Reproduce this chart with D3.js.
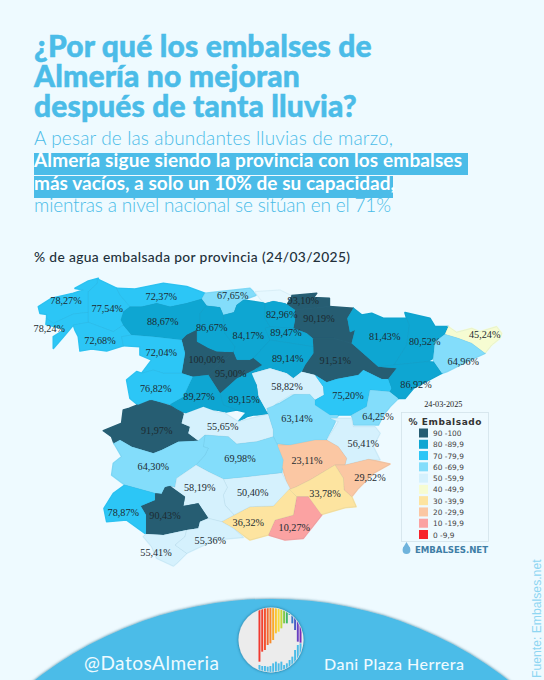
<!DOCTYPE html>
<html><head><meta charset="utf-8">
<script src="https://cdnjs.cloudflare.com/ajax/libs/d3/7.9.0/d3.min.js"></script>
<style>html,body{margin:0;padding:0;background:#eefaff}svg{display:block}</style></head>
<body><svg id="c" width="544" height="680"></svg>
<script>
// ---------- DATA ----------
const titleLines = ["¿Por qué los embalses de","Almería no mejoran","después de tanta lluvia?"];
const introLines = ["A pesar de las abundantes lluvias de marzo,","Almería sigue siendo la provincia con los embalses","más vacíos, a solo un 10% de su capacidad,","mientras a nivel nacional se sitúan en el 71%"];
const chartTitle = "% de agua embalsada por provincia (24/03/2025)";
const provinces = ["A Coruña","Pontevedra","Lugo","Ourense","Asturias","Cantabria","Bizkaia","León","Palencia","Burgos","Gipuzkoa","Navarra","Zaragoza","Álava","La Rioja","Soria","Guadalajara","Madrid","Segovia","Valladolid","Ávila","Zamora","Salamanca","Cáceres","Toledo","Cuenca","Teruel","Castellón","Valencia","Albacete","Alicante","Murcia","Almería","Granada","Jaén","Ciudad Real","Badajoz","Córdoba","Sevilla","Huelva","Cádiz","Málaga","Huesca","Lleida","Girona","Barcelona","Tarragona"];
const fillPct = [78.27,78.24,77.54,72.68,72.37,67.65,null,88.67,86.67,84.17,93.10,90.19,91.51,82.96,89.47,89.14,58.82,89.15,95.00,100.00,89.27,72.04,76.82,91.97,55.65,63.14,75.20,64.25,56.41,23.11,29.52,33.78,10.27,36.32,50.40,69.98,64.30,58.19,90.43,78.87,55.41,55.36,81.43,80.52,45.24,64.96,86.92];
const legendLabels = ["90 -100","80 -89,9","70 -79,9","60 -69,9","50 -59,9","40 -49,9","30 -39,9","20 -29,9","10 -19,9","0 -9,9"];
const bandColors = ["#f7222a","#fba2a2","#fbc7a3","#fde4a0","#f6fcd2","#d5f1fd","#83ddfb","#2cc6f6","#0ea6d2","#265d72"];
const bandBreaks = [10,20,30,40,50,60,70,80,90];
// outline sheets: traced map grid, one unit = a third of a map pixel
const sheetOffset = {a:[0,0],b:[690,0],c:[210,375],d:[750,345]};
const outlines = {
"A Coruña":[["a",[55,95,95,70,160,55,190,45,165,40,205,18,235,10,232,25,205,50,205,112,160,117,100,145,80,130,80,118,60,115]]],
"Pontevedra":[["a",[80,130,100,145,160,117,205,112,205,142,160,150,135,180,100,220,100,185,132,165,125,160,78,148]]],
"Lugo":[["a",[205,50,232,25,232,12,290,40,300,60,330,95,310,110,310,150,280,170,240,155,205,142]]],
"Ourense":[["a",[160,150,205,142,240,155,280,170,310,150,335,180,305,185,310,212,260,228,215,222,180,228,175,185,165,165]]],
"Asturias":[["a",[290,40,345,42,430,25,500,35,555,55,545,72,500,85,450,95,410,85,365,95,330,95,300,60]]],
"Cantabria":[["a",[545,72,555,55,600,50,690,40,710,60,670,75,650,90,642,112,610,120,600,97,560,92]]],
"Bizkaia":[["b",[15,50,90,45,125,62,110,88,105,85,70,78,45,85,30,72]]],
"León":[["a",[330,95,365,95,410,85,450,95,500,85,545,72,560,92,540,115,540,150,530,165,500,180,485,195,440,190,400,185,335,180,310,150,302,135,310,110]]],
"Palencia":[["a",[540,115,560,92,600,97,610,120,615,175,645,215,640,232,590,230,565,220,530,200,530,165,540,150]]],
"Burgos":[["a",[610,120,642,112,650,90,670,75,735,85,735,130,750,155,735,160,750,195,700,250,690,255,650,255,640,232,645,215,615,175]]],
"Gipuzkoa":[["b",[110,88,125,62,200,55,190,68,238,70,238,95,135,105]]],
"Navarra":[["b",[135,105,238,95,310,100,292,130,300,172,315,165,305,205,250,190,188,190,170,175,130,160,135,135]]],
"Zaragoza":[["b",[188,190,250,190,305,205,385,275,440,280,415,312,395,312,340,285,325,300,260,312,230,322,195,300,155,290,165,270,190,235]]],
"Álava":[["b",[45,85,70,78,105,85,110,88,135,105,135,135,130,160,60,155,45,130]]],
"La Rioja":[["b",[45,160,60,155,130,160,170,175,188,190,190,215,60,195]]],
"Soria":[["b",[60,195,190,215,190,235,165,270,155,290,130,310,110,295,60,280,5,295,35,270,10,250]]],
"Guadalajara":[["b",[5,295,60,280,110,295,130,310,155,290,195,300,220,335,222,360,195,375,180,360,125,358,80,385,50,410,25,365,20,330,5,305]]],
"Madrid":[["a",[600,355,650,310,700,285,725,270,695,295,710,330,715,365,740,410,745,418,700,420,682,424,655,440,680,412,650,405,610,390]]],
"Segovia":[["a",[565,300,585,280,640,232,650,255,690,255,700,250,725,270,700,285,650,310,600,355]]],
"Valladolid":[["a",[485,195,500,180,530,165,530,200,565,220,590,230,640,232,585,280,565,300,518,305,485,295,495,235]]],
"Ávila":[["a",[450,388,490,365,518,305,565,300,600,355,610,390,650,405,610,412,595,405,550,412,520,432,492,412,470,402]]],
"Zamora":[["a",[305,185,335,180,400,185,440,190,485,195,495,235,485,295,430,295,400,285,365,295,395,255,360,240,360,215,310,212]]],
"Salamanca":[["a",[320,315,350,290,365,295,400,285,430,295,485,295,518,305,490,365,450,388,395,375,360,395,330,370]]],
"Cáceres":[["c",[100,30,118,25,180,0,240,18,282,42,275,70,300,80,295,100,325,122,265,125,215,150,190,160,125,140,90,120,72,130,65,110,40,92,95,70]]],
"Toledo":[["c",[282,42,340,20,385,37,400,37,445,65,472,58,535,42,550,90,550,110,500,125,440,132,415,110,345,105,325,122,295,100,300,80,275,70]]],
"Cuenca":[["c",[535,42,530,25,570,10,615,-17,660,-17,675,0,720,40,745,45,710,120,620,140,560,130,550,110,550,90]]],
"Teruel":[["b",[195,375,222,360,220,335,195,300,230,322,260,312,325,300,340,285,395,312,415,312,425,340,420,350,360,345,350,395,305,420,240,420,195,390]]],
"Castellón":[["b",[360,345,420,350,445,370,420,395,400,420,385,450,310,450,305,420,350,395]]],
"Valencia":[["d",[180,85,245,85,250,110,315,110,330,130,310,170,330,210,295,208,265,215,225,225,230,205,205,170,170,150,205,95]]],
"Albacete":[["d",[15,165,60,165,135,150,170,150,205,170,230,205,225,225,195,225,170,240,120,270,80,290,55,300,40,240,15,195]]],
"Alicante":[["d",[225,225,265,215,295,208,360,222,310,250,285,275,265,295,245,320,222,300,220,265,195,225]]],
"Murcia":[["d",[55,300,80,290,120,270,170,240,195,225,220,265,222,300,245,320,258,350,225,353,150,375,118,345,115,320,80,320]]],
"Almería":[["c",[535,405,555,360,610,345,620,290,655,290,695,345,640,415,585,420]]],
"Granada":[["c",[395,365,432,345,480,320,550,318,595,265,620,290,610,345,555,360,535,405,480,420,430,385]]],
"Jaén":[["c",[400,237,470,230,575,218,600,265,550,318,480,320,432,345,405,315,400,285,412,262]]],
"Ciudad Real":[["c",[318,195,345,165,355,145,340,140,345,105,415,110,440,132,500,125,550,110,560,130,580,180,575,218,470,230,400,237,355,215]]],
"Badajoz":[["c",[72,130,90,120,125,140,190,160,215,150,265,125,325,122,345,105,340,140,355,145,345,165,318,195,260,235,255,262,240,258,225,262,215,282,195,280,105,255,65,225,70,190,95,170]]],
"Córdoba":[["c",[318,195,355,215,400,237,412,262,400,285,405,315,432,345,395,365,355,355,325,310,280,318,285,290,240,258,255,262,260,235]]],
"Sevilla":[["c",[195,280,215,282,225,262,240,258,285,290,280,318,325,310,355,355,330,365,325,385,290,390,220,405,168,402,168,345,152,318,195,300]]],
"Huelva":[["c",[105,255,195,280,195,300,152,318,168,345,168,402,110,360,50,365,42,325,70,280]]],
"Cádiz":[["c",[168,402,220,405,290,390,285,410,255,435,290,460,260,490,250,498,200,475,185,440,160,410]]],
"Málaga":[["c",[290,390,325,385,330,365,355,355,395,365,430,385,460,412,375,420,300,455,290,460,255,435,285,410]]],
"Huesca":[["b",[310,100,335,120,365,115,400,130,470,130,478,150,470,210,432,270,385,275,305,205,315,165,300,172,292,130]]],
"Lleida":[["b",[465,113,540,130,555,155,595,155,585,178,555,200,550,250,530,260,432,270,470,210,478,150,470,130]]],
"Girona":[["b",[595,155,620,172,665,160,690,170,740,155,755,175,750,190,725,210,705,235,665,205,625,190,585,178]]],
"Barcelona":[["b",[585,178,625,190,665,205,705,235,650,260,590,290,575,295,552,262,550,250,555,200]]],
"Tarragona":[["b",[385,275,432,270,530,260,552,262,575,295,490,340,465,370,445,370,420,350,425,340,415,312,440,280]]]
};
// label anchors on the same map grid
const labelAnchors = {"A Coruña":["a",138,78],"Pontevedra":["a",88,162],"Lugo":["a",262,100],"Ourense":["a",240,198],"Asturias":["a",424,66],"Cantabria":["a",638,61],"León":["a",428,141],"Palencia":["a",575,157],"Burgos":["a",685,182],"Gipuzkoa":["b",160,77],"Navarra":["b",207,131],"Zaragoza":["b",256,258],"Álava":["b",95,119],"La Rioja":["b",108,174],"Soria":["b",113,250],"Guadalajara":["b",111,334],"Madrid":["a",672,373],"Segovia":["a",632,296],"Valladolid":["a",560,254],"Ávila":["a",537,365],"Zamora":["a",424,233],"Salamanca":["a",407,341],"Cáceres":["c",200,91],"Toledo":["c",398,81],"Cuenca":["c",621,57],"Teruel":["b",294,363],"Castellón":["b",384,426],"Valencia":["d",280,161],"Albacete":["d",111,211],"Alicante":["d",300,262],"Murcia":["d",165,310],"Almería":["d",73,412],"Granada":["c",475,368],"Jaén":["c",488,277],"Ciudad Real":["c",450,175],"Badajoz":["c",190,201],"Córdoba":["c",329,263],"Sevilla":["c",225,347],"Huelva":["c",100,338],"Cádiz":["c",198,459],"Málaga":["c",361,422],"Huesca":["b",404,184],"Lleida":["b",524,200],"Girona":["b",704,180],"Barcelona":["b",640,260],"Tarragona":["b",498,329]};
// logo bars
const logoHues = ["#f0392f","#f2402f","#f4502f","#f4672f","#f78a2a","#f9a92a","#fbc52e","#f8d93a","#c4d83a","#7cc84a","#3eb868","#2a9fc0","#3a78c8","#4a5cc8","#6a40c0","#7a2cb8"];
const logoTopBars = [185,155,150,135,130,120,100,95,85,70,70,45,70,90,125,128];
const logoBottomBars = [195,198,198,200,198,190,185,190,185,195,190,180,170,150,135,130];
// ---------- DRAW ----------
const svg = d3.select("#c");
const defs = svg.append("defs");
const sh = defs.append("filter").attr("id","sh").attr("x","-10%").attr("y","-10%").attr("width","120%").attr("height","120%");
sh.append("feDropShadow").attr("dx",0).attr("dy",0).attr("stdDeviation",1.6).attr("flood-color","#12506e").attr("flood-opacity",.75);
const blue = "#4bbce8";
svg.append("rect").attr("width",544).attr("height",680).attr("fill","#eefaff");
// heading
svg.append("g").selectAll("text").data(titleLines).join("text")
 .attr("x",34).attr("y",(d,i)=>[57,87,117][i]).text(d=>d)
 .attr("font-family","Lato, sans-serif").attr("font-weight",900).attr("font-size",30)
 .attr("fill",blue).attr("stroke",blue).attr("stroke-width",.5).attr("letter-spacing",.15);
const introY = d3.scalePoint().domain(d3.range(4)).range([145,212]);
const introWidths = [359,428,361,357];
svg.append("rect").attr("x",34).attr("y",153).attr("width",434).attr("height",22).attr("fill",blue);
svg.append("rect").attr("x",34).attr("y",176).attr("width",359).attr("height",22).attr("fill",blue);
svg.append("g").selectAll("text").data(introLines).join("text")
 .attr("x",34).attr("y",(d,i)=>introY(i)).text(d=>d)
 .attr("textLength",(d,i)=>introWidths[i]).attr("lengthAdjust","spacing")
 .attr("font-family","Lato, sans-serif")
 .attr("font-weight",(d,i)=>i==1||i==2?700:300).attr("font-size",19)
 .attr("fill",(d,i)=>i==1||i==2?"#fff":blue);
svg.append("text").attr("x",34).attr("y",262).text(chartTitle).attr("textLength",316).attr("lengthAdjust","spacing")
 .attr("font-family","Lato, sans-serif").attr("font-weight",500).attr("font-size",13.8).attr("fill","#22303a");
// map
const project = d3.geoIdentity().scale(1/3).translate([20,275]);
const geoPath = d3.geoPath(project);
const flat = parts => parts.flatMap(([s,p]) => d3.range(0,p.length,2).map(i=>[p[i]+sheetOffset[s][0],p[i+1]+sheetOffset[s][1]]));
const features = provinces.map((name,i)=>{
  const ring = flat(outlines[name]); ring.push(ring[0]);
  return {type:"Feature",properties:{name,value:fillPct[i]},geometry:{type:"Polygon",coordinates:[ring]}};
});
const color = d3.scaleThreshold().domain(bandBreaks).range(bandColors);
const fillOf = d => d.properties.value==null ? "#e6f8ff" : color(d.properties.value);
const map = svg.append("g");
map.selectAll("path.u").data(features).join("path").attr("class","u").attr("d",geoPath)
 .attr("fill",fillOf).attr("stroke",fillOf).attr("stroke-width",1.7).attr("stroke-linejoin","round");
map.selectAll("path.b").data(features).join("path").attr("class","b").attr("d",geoPath)
 .attr("fill",fillOf).attr("stroke","#3c7f9c").attr("stroke-opacity",.2).attr("stroke-width",.4);
svg.append("g").selectAll("text").data(features.filter(d=>d.properties.value!=null)).join("text")
 .each(function(d){
   const [s,x,y] = labelAnchors[d.properties.name];
   const [px,py] = project([x+sheetOffset[s][0],y+sheetOffset[s][1]]);
   d3.select(this).attr("x",px).attr("y",py+3.4);
 })
 .attr("text-anchor","middle").attr("font-family","'Liberation Serif', serif").attr("font-size",10.2).attr("fill","#1c2a30")
 .text(d=>d3.format(".2f")(d.properties.value).replace(".",",")+"%");
// legend
svg.append("text").attr("x",443.3).attr("y",406.5).attr("text-anchor","middle")
 .attr("font-family","'Liberation Serif', serif").attr("font-size",8.2).attr("fill","#222").text("24-03-2025");
svg.append("rect").attr("x",401.5).attr("y",412.5).attr("width",87).attr("height",129)
 .attr("fill","none").attr("stroke","#d3e3ea").attr("stroke-width",.8);
svg.append("text").attr("x",408.5).attr("y",424.5).attr("textLength",73).attr("lengthAdjust","spacing")
 .attr("font-family","'DejaVu Sans', sans-serif").attr("font-weight",700).attr("font-size",9).attr("fill","#333").text("% Embalsado");
const rowY = d3.scalePoint().domain(legendLabels).range([433,534.5]);
const lg = svg.append("g").selectAll("g").data(legendLabels).join("g").attr("transform",d=>`translate(419,${rowY(d)-4.5})`);
lg.append("rect").attr("width",9).attr("height",9).attr("fill",(d,i)=>bandColors[bandColors.length-1-i]);
lg.append("text").attr("x",14).attr("y",7.6).attr("font-family","'DejaVu Sans', sans-serif").attr("font-size",7.4).attr("fill","#444").text(d=>d);
const drop = svg.append("g").attr("transform","translate(406.5,550)").attr("fill","#6fb3dc");
drop.append("path").attr("d",d3.symbol(d3.symbolCircle,48)());
drop.append("path").attr("transform","translate(0,-4)").attr("d",d3.symbol(d3.symbolTriangle,22)());
svg.append("text").attr("x",415).attr("y",552.8).attr("textLength",73).attr("lengthAdjust","spacing").attr("font-family","'DejaVu Sans', sans-serif").attr("font-weight",700)
 .attr("font-size",8.6).attr("fill","#3f7ea6").text("EMBALSES.NET");
// footer
svg.append("circle").attr("cx",271.5).attr("cy",985).attr("r",386).attr("fill",blue).attr("filter","url(#sh)");
svg.append("circle").attr("cx",271).attr("cy",640).attr("r",32.5).attr("fill","#ececec").attr("filter","url(#sh)");
defs.append("clipPath").attr("id","lc").append("circle").attr("cx",271).attr("cy",640).attr("r",32);
const logoX = d3.scaleBand().domain(d3.range(16)).range([258.5,301.5]).paddingInner(.3);
const logoYs = d3.scaleLinear().domain([0,240]).range([600,680]);
const logo = svg.append("g").attr("clip-path","url(#lc)");
logo.selectAll("rect.t").data(logoTopBars).join("rect").attr("class","t")
 .attr("x",(d,i)=>logoX(i)).attr("width",logoX.bandwidth()).attr("y",600).attr("height",d=>logoYs(d)-600).attr("fill",(d,i)=>logoHues[i]);
logo.selectAll("rect.b").data(logoBottomBars).join("rect").attr("class","b")
 .attr("x",(d,i)=>logoX(i)).attr("width",logoX.bandwidth()).attr("y",d=>logoYs(d)).attr("height",d=>680-logoYs(d)).attr("fill",blue);
svg.append("text").attr("x",84).attr("y",670).attr("textLength",135).attr("lengthAdjust","spacing").attr("font-family","Lato, sans-serif").attr("font-weight",400).attr("font-size",19).attr("fill","#eefaff").text("@DatosAlmeria");
svg.append("text").attr("x",324).attr("y",670).attr("textLength",140).attr("lengthAdjust","spacing").attr("font-family","Lato, sans-serif").attr("font-weight",500).attr("font-size",16).attr("fill","#eefaff").text("Dani Plaza Herrera");
svg.append("text").attr("transform","translate(541,678) rotate(-90)").attr("font-family","'Liberation Sans', sans-serif").attr("font-size",12.2).attr("fill","#8fd6f2").text("Fuente: Embalses.net");
</script></body></html>
